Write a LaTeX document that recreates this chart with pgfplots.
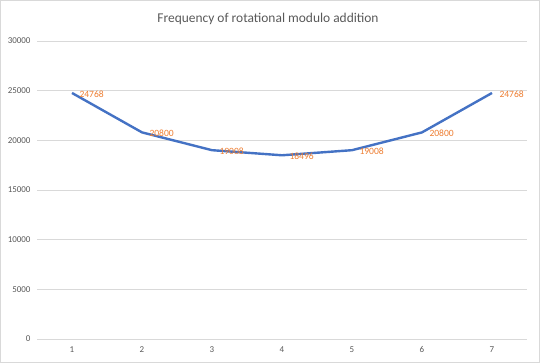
\documentclass[border=0pt]{standalone}
\usepackage{pgfplots}
\pgfplotsset{compat=1.18}
\usepackage{fontspec}
\setmainfont{Carlito}
\definecolor{exblue}{RGB}{68,114,196}
\definecolor{exorange}{RGB}{237,125,49}
\definecolor{exgrid}{RGB}{217,217,217}
\definecolor{extext}{RGB}{89,89,89}
\pgfplotstableread{
x y
1 24768
2 20800
3 19008
4 18496
5 19008
6 20800
7 24768
}\datatable
\begin{document}
\begin{tikzpicture}
\useasboundingbox (-37bp,-24bp) rectangle (503bp,339bp);
\draw[exgrid, line width=0.8bp] (-36.5bp,-23.5bp) rectangle (502.5bp,338.5bp);
\begin{axis}[
  at={(0,0)}, anchor=origin,
  scale only axis,
  width=490bp, height=298bp,
  xmin=0.5, xmax=7.5,
  ymin=0, ymax=30000,
  xtick={1,...,7},
  ytick={0,5000,...,30000},
  axis line style={draw=none},
  axis x line*=bottom,
  axis y line*=left,
  x axis line style={draw=exgrid, line width=0.8bp},
  major tick length=0pt,
  ymajorgrids,
  grid style={exgrid, line width=0.8bp},
  tick label style={font=\fontsize{9}{10}\selectfont, text=extext},
  /pgf/number format/assume math mode=true,
  /pgf/number format/fixed,
  /pgf/number format/1000 sep={},
  scaled y ticks=false,
  yticklabel style={anchor=east, xshift=-3bp},
  xticklabel style={yshift=-4bp},
  clip=false,
  nodes near coords,
  nodes near coords style={font=\fontsize{9.6}{10}\selectfont, text=exorange, anchor=west, xshift=3bp, yshift=-1bp},
]
\addplot[exblue, line width=2.4bp, mark=none, line join=round] table[x=x,y=y] {\datatable};
\end{axis}
\node[font=\fontsize{13.5}{15}\selectfont, text=extext] at (231bp,320bp) {Frequency of rotational modulo addition};
\end{tikzpicture}
\end{document}
